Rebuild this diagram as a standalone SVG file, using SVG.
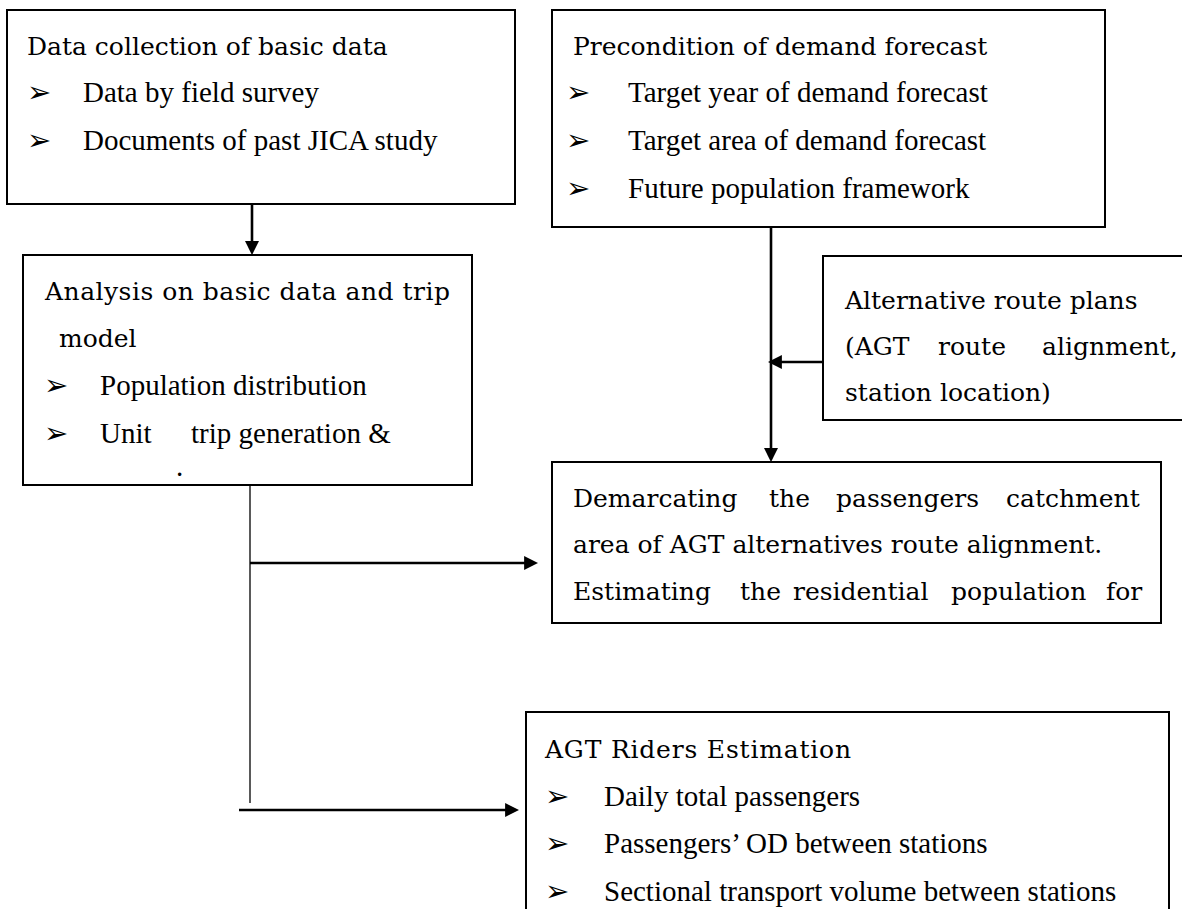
<svg xmlns="http://www.w3.org/2000/svg" width="1182" height="909" viewBox="0 0 1182 909">
<style>
.box{fill:#fff;stroke:#000;stroke-width:2}
.h{font-family:"DejaVu Serif","Liberation Serif",serif;font-size:25px;fill:#000}
.t{font-family:"Liberation Serif","Times New Roman",serif;font-size:29px;fill:#000}
.b{font-family:"DejaVu Sans",sans-serif;font-size:29px;fill:#000}
.c{stroke:#000;stroke-width:2.6;fill:none}
.thin{stroke:#000;stroke-width:1.3;fill:none}
</style>
<defs>
<marker id="ah" viewBox="0 0 10 10" refX="6" refY="5" markerWidth="14" markerHeight="14" markerUnits="userSpaceOnUse" orient="auto">
<path d="M0,0 L10,5 L0,10 z" fill="#000"/>
</marker>
</defs>
<rect width="1182" height="909" fill="#fff"/>

<g id="connectors">
<line class="c" x1="252" y1="205" x2="252" y2="249.5" marker-end="url(#ah)"/>
<line class="c" x1="771" y1="227" x2="771" y2="456.5" marker-end="url(#ah)"/>
<line class="c" x1="823" y1="362" x2="773.5" y2="362" marker-end="url(#ah)"/>
<line class="thin" x1="250" y1="480" x2="250" y2="803"/>
<line class="c" x1="250" y1="563" x2="532.5" y2="563" marker-end="url(#ah)"/>
<line class="c" x1="239" y1="810" x2="513.5" y2="810" marker-end="url(#ah)"/>
</g>

<g id="node-data-collection">
<rect class="box" x="7" y="10" width="508" height="194"/>
<text class="h" x="27" y="55">Data collection of basic data</text>
<text class="b" x="27" y="102">➢</text>
<text class="t" x="83" y="102">Data by field survey</text>
<text class="b" x="27" y="150">➢</text>
<text class="t" x="83" y="150">Documents of past JICA study</text>
</g>

<g id="node-precondition">
<rect class="box" x="552" y="10" width="553" height="217"/>
<text class="h" x="573" y="55">Precondition of demand forecast</text>
<text class="b" x="566" y="102">➢</text>
<text class="t" x="628" y="102">Target year of demand forecast</text>
<text class="b" x="566" y="150">➢</text>
<text class="t" x="628" y="150">Target area of demand forecast</text>
<text class="b" x="566" y="198">➢</text>
<text class="t" x="628" y="198">Future population framework</text>
</g>

<g id="node-analysis">
<rect class="box" x="23" y="255" width="449" height="230"/>
<text class="h" x="45" y="300" textLength="405">Analysis on basic data and trip</text>
<text class="h" x="59" y="347">model</text>
<text class="b" x="44" y="395">➢</text>
<text class="t" x="100" y="395">Population distribution</text>
<text class="b" x="44" y="443">➢</text>
<text class="t" x="100" y="443">Unit</text>
<text class="t" x="191" y="443">trip generation &amp;</text>
<text class="t" x="176" y="476">.</text>
</g>

<g id="node-alternative">
<rect class="box" x="823" y="256" width="380" height="164"/>
<text class="h" x="845" y="309">Alternative route plans</text>
<text class="h" y="355"><tspan x="845">(AGT</tspan><tspan x="938">route</tspan><tspan x="1042">alignment,</tspan></text>
<text class="h" x="845" y="401">station location)</text>
</g>

<g id="node-demarcating">
<rect class="box" x="552" y="462" width="609" height="161"/>
<text class="h" y="507"><tspan x="573">Demarcating</tspan><tspan x="769">the</tspan><tspan x="836">passengers</tspan><tspan x="1006">catchment</tspan></text>
<text class="h" x="573" y="553">area of AGT alternatives route alignment.</text>
<text class="h" y="600"><tspan x="573">Estimating</tspan><tspan x="740">the</tspan><tspan x="793">residential</tspan><tspan x="951">population</tspan><tspan x="1106">for</tspan></text>
</g>

<g id="node-riders">
<rect class="box" x="526" y="712" width="643" height="230"/>
<text class="h" x="545" y="758" textLength="306">AGT Riders Estimation</text>
<text class="b" x="545" y="806">➢</text>
<text class="t" x="604" y="806">Daily total passengers</text>
<text class="b" x="545" y="853">➢</text>
<text class="t" x="604" y="853">Passengers’ OD between stations</text>
<text class="b" x="545" y="901">➢</text>
<text class="t" x="604" y="901">Sectional transport volume between stations</text>
</g>
</svg>
